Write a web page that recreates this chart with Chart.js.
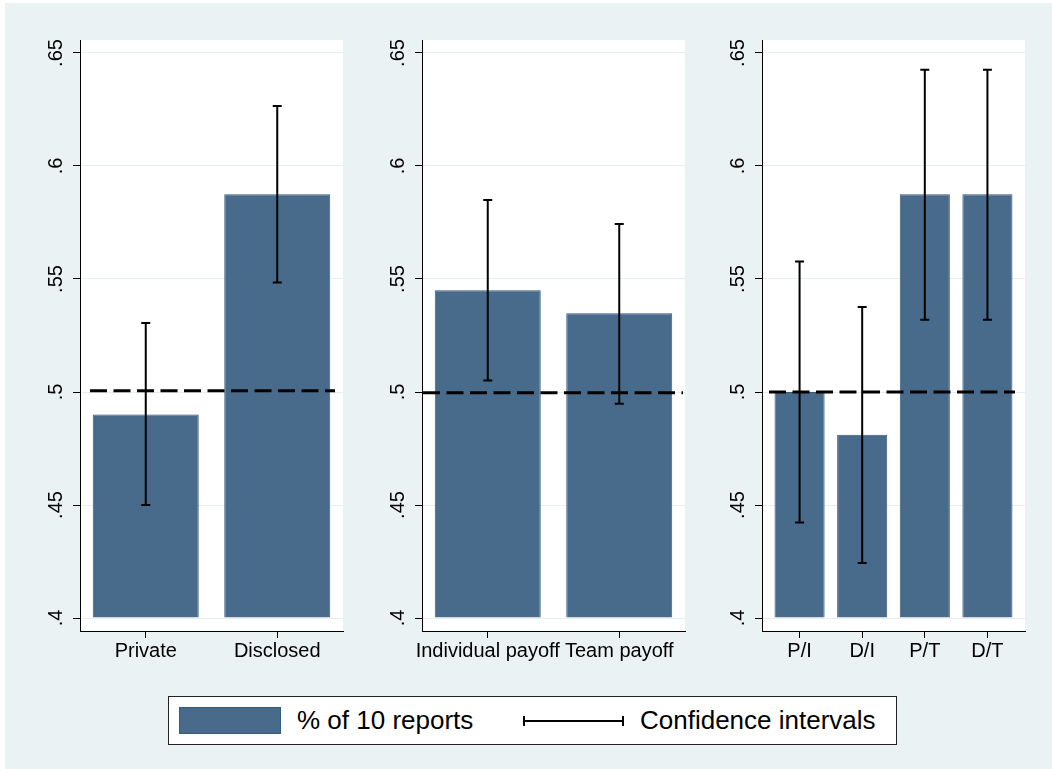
<!DOCTYPE html>
<html>
<head>
<meta charset="utf-8">
<script src="https://cdn.jsdelivr.net/npm/chart.js@4.4.1/dist/chart.umd.min.js"></script>
<style>
  body { margin: 0; width: 1052px; height: 769px; overflow: hidden; background: #fff;
         font-family: 'Liberation Sans', Arial, sans-serif; }
  #bg { position: absolute; left: 5px; top: 3px; right: 0; bottom: 0; background: #eaf2f3; }
  .panel { position: absolute; top: 0; }
  #legend { position: absolute; left: 168px; top: 696px; width: 729px; height: 49px;
            box-sizing: border-box; border: 1px solid #222; background: #fff; }
  #legend .sw { position: absolute; left: 10px; top: 10px; width: 102px; height: 27px;
                box-sizing: border-box; background: #486a8b; border: 1px solid #345a7e; }
  #legend .txt { position: absolute; top: 0; height: 47px; line-height: 47px; font-size: 26px; color: #000; white-space: nowrap; }
  #legend .ci { position: absolute; left: 354px; top: 23px; width: 101px; height: 2px; background: #000; }
  #legend .ci:before, #legend .ci:after { content: ''; position: absolute; top: -4px; width: 2px; height: 10px; background: #000; }
  #legend .ci:before { left: 0; }
  #legend .ci:after { right: 0; }
</style>
</head>
<body>
<div id="bg"></div>
<canvas id="p1" class="panel" width="350" height="690" style="left:0px"></canvas>
<canvas id="p2" class="panel" width="350" height="690" style="left:342px"></canvas>
<canvas id="p3" class="panel" width="350" height="690" style="left:682px"></canvas>
<div id="legend">
  <div class="sw"></div>
  <div class="txt" style="left:128px">% of 10 reports</div>
  <div class="ci"></div>
  <div class="txt" style="left:471px">Confidence intervals</div>
</div>

<script>
// data
const tickValues = [0.4, 0.45, 0.5, 0.55, 0.6, 0.65];
const tickLabels = ['.4', '.45', '.5', '.55', '.6', '.65'];

const panel1Labels = ['Private', 'Disclosed'];
const panel1Values = [0.490, 0.5875];
const panel1Low = [0.450, 0.5485];
const panel1High = [0.5305, 0.6265];

const panel2Labels = ['Individual payoff', 'Team payoff'];
const panel2Values = [0.545, 0.5348];
const panel2Low = [0.5051, 0.4948];
const panel2High = [0.585, 0.5743];

const panel3Labels = ['P/I', 'D/I', 'P/T', 'D/T'];
const panel3Values = [0.500, 0.4811, 0.5875, 0.5875];
const panel3Low = [0.4423, 0.4243, 0.532, 0.532];
const panel3High = [0.5577, 0.5376, 0.6426, 0.6426];

const refLines = [0.5006, 0.4997, 0.5];

const yMin = 0.39425, yMax = 0.65575;
const barColor = '#486a8b';
const barEdge = '#345a7e';
const font = "'Liberation Sans', Arial, sans-serif";

// white plot region
const plotBg = {
  id: 'plotBg',
  beforeDraw(chart) {
    const { ctx, chartArea: a } = chart;
    ctx.save();
    ctx.fillStyle = '#fff';
    ctx.fillRect(a.left, a.top, a.right - a.left, a.bottom - a.top);
    ctx.restore();
  }
};

// dashed line at .5 and the confidence intervals
const overlays = {
  id: 'overlays',
  afterDatasetsDraw(chart, args, opts) {
    const { ctx, chartArea: a, scales: { x, y } } = chart;
    ctx.save();
    const ry = y.getPixelForValue(opts.ref);
    ctx.strokeStyle = '#000';
    ctx.lineWidth = 3;
    ctx.setLineDash([17, 6.5]);
    ctx.beginPath();
    ctx.moveTo(a.left + opts.inset[0], ry);
    ctx.lineTo(a.right - opts.inset[1], ry);
    ctx.stroke();
    ctx.setLineDash([]);
    ctx.lineWidth = 2;
    opts.low.forEach((lo, i) => {
      const px = x.getPixelForValue(i);
      const yl = y.getPixelForValue(lo);
      const yh = y.getPixelForValue(opts.high[i]);
      ctx.beginPath();
      ctx.moveTo(px, yl); ctx.lineTo(px, yh);
      ctx.moveTo(px - 4.5, yl); ctx.lineTo(px + 4.5, yl);
      ctx.moveTo(px - 4.5, yh); ctx.lineTo(px + 4.5, yh);
      ctx.stroke();
    });
    ctx.restore();
  }
};

function makePanel(id, labels, values, low, high, ref, barPct, xPad, inset) {
  return new Chart(document.getElementById(id), {
    type: 'bar',
    data: {
      datasets: [{
        data: values.map((v, i) => ({ x: i, y: v })),
        base: tickValues[0],
        backgroundColor: barColor,
        borderColor: barEdge,
        borderWidth: 1,
        barPercentage: barPct,
        categoryPercentage: 1
      }]
    },
    options: {
      responsive: false,
      animation: false,
      layout: { padding: { top: 40, right: 7, left: 0, bottom: 0 } },
      plugins: {
        legend: { display: false },
        tooltip: { enabled: false },
        overlays: { ref: ref, low: low, high: high, inset: inset }
      },
      scales: {
        x: {
          type: 'linear',
          min: -xPad,
          max: labels.length - 1 + xPad,
          offset: false,
          afterBuildTicks(s) { s.ticks = labels.map((_, i) => ({ value: i })); },
          grid: { display: true, offset: false, drawOnChartArea: false, tickLength: 7, tickColor: '#000', tickWidth: 1 },
          border: { color: '#000', width: 1 },
          ticks: {
            color: '#000', font: { family: font, size: 20 }, padding: 1,
            maxRotation: 0, autoSkip: false,
            callback: (v) => labels[v]
          },
          afterFit(s) { s.height = 59; }
        },
        y: {
          min: yMin,
          max: yMax,
          afterBuildTicks(s) { s.ticks = tickValues.map(v => ({ value: v })); },
          grid: { color: '#e6eef1', lineWidth: 1, tickLength: 7, tickColor: '#000', tickWidth: 1 },
          border: { color: '#000', width: 1 },
          ticks: {
            color: '#000',
            font: { family: font, size: 20 },
            minRotation: 90, maxRotation: 90,
            crossAlign: 'center',
            padding: 3,
            autoSkip: false,
            callback: (v) => tickLabels[tickValues.findIndex(t => Math.abs(t - v) < 1e-9)]
          },
          afterFit(s) { s.width = 80; }
        }
      }
    },
    plugins: [plotBg, overlays]
  });
}

makePanel('p1', panel1Labels, panel1Values, panel1Low, panel1High, refLines[0], 0.806, 0.5, [10, 8]);
makePanel('p2', panel2Labels, panel2Values, panel2Low, panel2High, refLines[1], 0.806, 0.5, [1, 2]);
makePanel('p3', panel3Labels, panel3Values, panel3Low, panel3High, refLines[2], 0.8, 0.6, [7, 10]);
</script>
</body>
</html>
